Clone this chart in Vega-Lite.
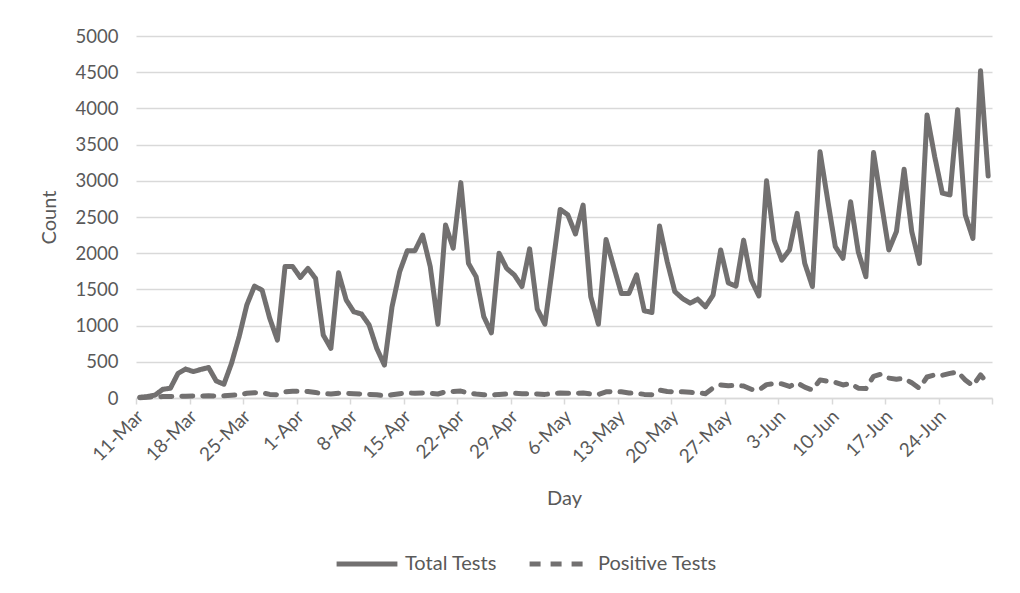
{
  "$schema": "https://vega.github.io/schema/vega-lite/v6.json",
  "width": 856,
  "height": 362,
  "autosize": {"type": "none"},
  "padding": {"left": 136, "top": 36, "right": 28, "bottom": 195},
  "background": "white",
  "config": {"view": {"stroke": null}, "font": "Lato"},
  "data": {"values": [
    {"day": "2020-03-11", "total": 10, "positive": 5},
    {"day": "2020-03-12", "total": 20, "positive": 10},
    {"day": "2020-03-13", "total": 40, "positive": 15},
    {"day": "2020-03-14", "total": 120, "positive": 20},
    {"day": "2020-03-15", "total": 135, "positive": 20},
    {"day": "2020-03-16", "total": 340, "positive": 22},
    {"day": "2020-03-17", "total": 400, "positive": 25},
    {"day": "2020-03-18", "total": 365, "positive": 28},
    {"day": "2020-03-19", "total": 395, "positive": 28},
    {"day": "2020-03-20", "total": 420, "positive": 30},
    {"day": "2020-03-21", "total": 235, "positive": 28},
    {"day": "2020-03-22", "total": 190, "positive": 30},
    {"day": "2020-03-23", "total": 480, "positive": 38},
    {"day": "2020-03-24", "total": 850, "positive": 45},
    {"day": "2020-03-25", "total": 1285, "positive": 65},
    {"day": "2020-03-26", "total": 1545, "positive": 73},
    {"day": "2020-03-27", "total": 1490, "positive": 70},
    {"day": "2020-03-28", "total": 1100, "positive": 50},
    {"day": "2020-03-29", "total": 800, "positive": 45},
    {"day": "2020-03-30", "total": 1815, "positive": 85},
    {"day": "2020-03-31", "total": 1815, "positive": 92},
    {"day": "2020-04-01", "total": 1665, "positive": 92},
    {"day": "2020-04-02", "total": 1790, "positive": 90},
    {"day": "2020-04-03", "total": 1650, "positive": 75},
    {"day": "2020-04-04", "total": 870, "positive": 60},
    {"day": "2020-04-05", "total": 685, "positive": 55},
    {"day": "2020-04-06", "total": 1730, "positive": 65},
    {"day": "2020-04-07", "total": 1355, "positive": 62},
    {"day": "2020-04-08", "total": 1190, "positive": 60},
    {"day": "2020-04-09", "total": 1160, "positive": 55},
    {"day": "2020-04-10", "total": 1010, "positive": 50},
    {"day": "2020-04-11", "total": 685, "positive": 45},
    {"day": "2020-04-12", "total": 455, "positive": 30},
    {"day": "2020-04-13", "total": 1260, "positive": 45},
    {"day": "2020-04-14", "total": 1745, "positive": 60},
    {"day": "2020-04-15", "total": 2035, "positive": 70},
    {"day": "2020-04-16", "total": 2035, "positive": 65},
    {"day": "2020-04-17", "total": 2250, "positive": 70},
    {"day": "2020-04-18", "total": 1815, "positive": 65},
    {"day": "2020-04-19", "total": 1020, "positive": 55},
    {"day": "2020-04-20", "total": 2390, "positive": 85},
    {"day": "2020-04-21", "total": 2070, "positive": 90},
    {"day": "2020-04-22", "total": 2975, "positive": 95},
    {"day": "2020-04-23", "total": 1860, "positive": 70},
    {"day": "2020-04-24", "total": 1675, "positive": 55},
    {"day": "2020-04-25", "total": 1125, "positive": 45},
    {"day": "2020-04-26", "total": 900, "positive": 40},
    {"day": "2020-04-27", "total": 2000, "positive": 50},
    {"day": "2020-04-28", "total": 1790, "positive": 55},
    {"day": "2020-04-29", "total": 1700, "positive": 65},
    {"day": "2020-04-30", "total": 1540, "positive": 60},
    {"day": "2020-05-01", "total": 2060, "positive": 60},
    {"day": "2020-05-02", "total": 1230, "positive": 55},
    {"day": "2020-05-03", "total": 1020, "positive": 50},
    {"day": "2020-05-04", "total": 1810, "positive": 60},
    {"day": "2020-05-05", "total": 2605, "positive": 70},
    {"day": "2020-05-06", "total": 2530, "positive": 65},
    {"day": "2020-05-07", "total": 2265, "positive": 65},
    {"day": "2020-05-08", "total": 2665, "positive": 70},
    {"day": "2020-05-09", "total": 1400, "positive": 55},
    {"day": "2020-05-10", "total": 1020, "positive": 50},
    {"day": "2020-05-11", "total": 2190, "positive": 85},
    {"day": "2020-05-12", "total": 1815, "positive": 90},
    {"day": "2020-05-13", "total": 1445, "positive": 85},
    {"day": "2020-05-14", "total": 1445, "positive": 70},
    {"day": "2020-05-15", "total": 1700, "positive": 65},
    {"day": "2020-05-16", "total": 1205, "positive": 50},
    {"day": "2020-05-17", "total": 1180, "positive": 45},
    {"day": "2020-05-18", "total": 2375, "positive": 110},
    {"day": "2020-05-19", "total": 1885, "positive": 90},
    {"day": "2020-05-20", "total": 1470, "positive": 85},
    {"day": "2020-05-21", "total": 1375, "positive": 85},
    {"day": "2020-05-22", "total": 1310, "positive": 80},
    {"day": "2020-05-23", "total": 1365, "positive": 70},
    {"day": "2020-05-24", "total": 1260, "positive": 60},
    {"day": "2020-05-25", "total": 1420, "positive": 140},
    {"day": "2020-05-26", "total": 2045, "positive": 180},
    {"day": "2020-05-27", "total": 1590, "positive": 170},
    {"day": "2020-05-28", "total": 1545, "positive": 175},
    {"day": "2020-05-29", "total": 2180, "positive": 165},
    {"day": "2020-05-30", "total": 1630, "positive": 120},
    {"day": "2020-05-31", "total": 1410, "positive": 110},
    {"day": "2020-06-01", "total": 3000, "positive": 185},
    {"day": "2020-06-02", "total": 2180, "positive": 200},
    {"day": "2020-06-03", "total": 1905, "positive": 195},
    {"day": "2020-06-04", "total": 2045, "positive": 160},
    {"day": "2020-06-05", "total": 2550, "positive": 210},
    {"day": "2020-06-06", "total": 1860, "positive": 150},
    {"day": "2020-06-07", "total": 1540, "positive": 110},
    {"day": "2020-06-08", "total": 3400, "positive": 250},
    {"day": "2020-06-09", "total": 2735, "positive": 230},
    {"day": "2020-06-10", "total": 2090, "positive": 215},
    {"day": "2020-06-11", "total": 1930, "positive": 180},
    {"day": "2020-06-12", "total": 2710, "positive": 200},
    {"day": "2020-06-13", "total": 2020, "positive": 135},
    {"day": "2020-06-14", "total": 1675, "positive": 130},
    {"day": "2020-06-15", "total": 3390, "positive": 300},
    {"day": "2020-06-16", "total": 2710, "positive": 330},
    {"day": "2020-06-17", "total": 2045, "positive": 275},
    {"day": "2020-06-18", "total": 2300, "positive": 260},
    {"day": "2020-06-19", "total": 3160, "positive": 270},
    {"day": "2020-06-20", "total": 2300, "positive": 210},
    {"day": "2020-06-21", "total": 1860, "positive": 135},
    {"day": "2020-06-22", "total": 3910, "positive": 290},
    {"day": "2020-06-23", "total": 3335, "positive": 320},
    {"day": "2020-06-24", "total": 2830, "positive": 315},
    {"day": "2020-06-25", "total": 2805, "positive": 340},
    {"day": "2020-06-26", "total": 3980, "positive": 360},
    {"day": "2020-06-27", "total": 2530, "positive": 250},
    {"day": "2020-06-28", "total": 2205, "positive": 170},
    {"day": "2020-06-29", "total": 4520, "positive": 320},
    {"day": "2020-06-30", "total": 3065, "positive": 190}
  ]},
  "transform": [{"fold": ["total", "positive"], "as": ["series", "count"]}],
  "mark": {"type": "line", "strokeWidth": 5, "strokeCap": "round", "strokeJoin": "round", "color": "#727070"},
  "encoding": {
    "x": {
      "field": "day",
      "type": "temporal",
      "scale": {
        "type": "utc",
        "domain": [
          {"year": 2020, "month": 3, "date": 10, "hours": 12, "utc": true},
          {"year": 2020, "month": 6, "date": 30, "hours": 12, "utc": true}
        ]
      },
      "axis": {
        "title": "Day",
        "titleFont": "Lato",
        "titleFontSize": 20,
        "titleFontWeight": "normal",
        "titleColor": "#595959",
        "titlePadding": 22,
        "values": [
          {"year": 2020, "month": 3, "date": 10, "hours": 12, "utc": true},
          {"year": 2020, "month": 3, "date": 17, "hours": 12, "utc": true},
          {"year": 2020, "month": 3, "date": 24, "hours": 12, "utc": true},
          {"year": 2020, "month": 3, "date": 31, "hours": 12, "utc": true},
          {"year": 2020, "month": 4, "date": 7, "hours": 12, "utc": true},
          {"year": 2020, "month": 4, "date": 14, "hours": 12, "utc": true},
          {"year": 2020, "month": 4, "date": 21, "hours": 12, "utc": true},
          {"year": 2020, "month": 4, "date": 28, "hours": 12, "utc": true},
          {"year": 2020, "month": 5, "date": 5, "hours": 12, "utc": true},
          {"year": 2020, "month": 5, "date": 12, "hours": 12, "utc": true},
          {"year": 2020, "month": 5, "date": 19, "hours": 12, "utc": true},
          {"year": 2020, "month": 5, "date": 26, "hours": 12, "utc": true},
          {"year": 2020, "month": 6, "date": 2, "hours": 12, "utc": true},
          {"year": 2020, "month": 6, "date": 9, "hours": 12, "utc": true},
          {"year": 2020, "month": 6, "date": 16, "hours": 12, "utc": true},
          {"year": 2020, "month": 6, "date": 23, "hours": 12, "utc": true},
          {"year": 2020, "month": 6, "date": 30, "hours": 12, "utc": true}
        ],
        "labelExpr": "datum.value > 1593475200000 ? '' : utcFormat(datum.value + 43200000, '%-d-%b')",
        "labelAngle": -45,
        "labelAlign": "right",
        "labelBaseline": "middle",
        "labelOffset": 4,
        "labelPadding": 9,
        "labelFont": "Lato",
        "labelFontSize": 19,
        "labelColor": "#595959",
        "labelOverlap": false,
        "labelFlush": false,
        "grid": false,
        "domainColor": "#d9d9d9",
        "domainWidth": 1.5,
        "tickColor": "#d9d9d9",
        "tickWidth": 1.5,
        "tickSize": 6
      }
    },
    "y": {
      "field": "count",
      "type": "quantitative",
      "scale": {"domain": [0, 5000], "nice": false},
      "axis": {
        "title": "Count",
        "titleFont": "Lato",
        "titleFontSize": 20,
        "titleFontWeight": "normal",
        "titleColor": "#595959",
        "titlePadding": 16,
        "values": [0, 500, 1000, 1500, 2000, 2500, 3000, 3500, 4000, 4500, 5000],
        "format": "d",
        "labelFont": "Lato",
        "labelFontSize": 18.5,
        "labelColor": "#595959",
        "labelPadding": 18,
        "domain": false,
        "ticks": false,
        "grid": true,
        "gridColor": "#d9d9d9",
        "gridWidth": 1.5
      }
    },
    "strokeDash": {
      "field": "series",
      "type": "nominal",
      "scale": {"domain": ["total", "positive"], "range": [[1, 0], [11, 10]]},
      "legend": {
        "orient": "none",
        "legendX": 198,
        "legendY": 495,
        "direction": "horizontal",
        "title": null,
        "labelExpr": "datum.label == 'total' ? 'Total Tests' : 'Positive Tests'",
        "labelFont": "Lato",
        "labelFontSize": 20,
        "labelColor": "#595959",
        "labelOffset": 5,
        "columnPadding": 22,
        "symbolType": "stroke",
        "symbolSize": 3700,
        "symbolStrokeWidth": 5,
        "symbolStrokeColor": "#727070"
      }
    }
  }
}
